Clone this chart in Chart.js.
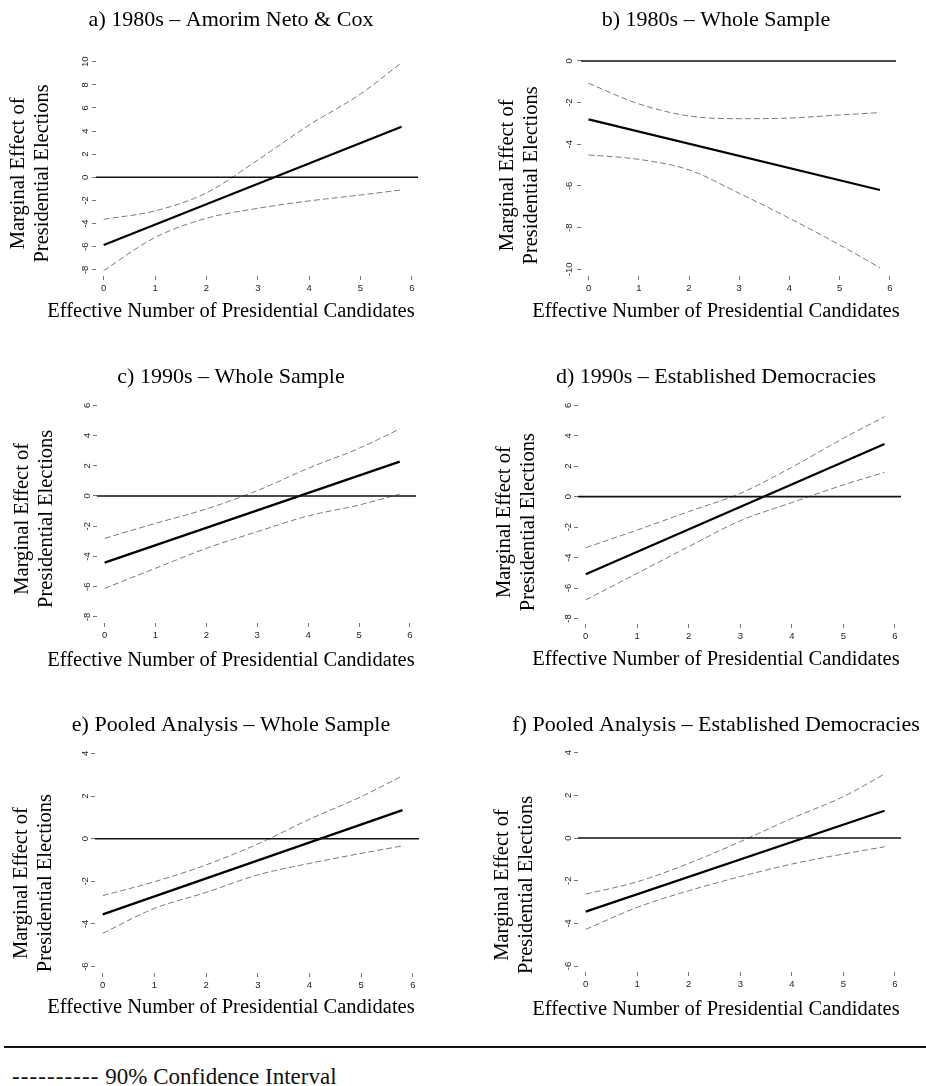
<!DOCTYPE html>
<html>
<head>
<meta charset="utf-8">
<script src="https://cdn.jsdelivr.net/npm/chart.js@4.4.1/dist/chart.umd.min.js"></script>
<style>
  html, body { margin: 0; padding: 0; background: #fff; width: 926px; height: 1086px; overflow: hidden; position: relative; }
  canvas { position: absolute; }
  #rule { position: absolute; left: 4px; top: 1046px; width: 922px; height: 0; border-top: 2px solid #111; }
  #note { position: absolute; left: 12px; top: 1064px; font: 23px 'Liberation Serif', serif; line-height: 26px; color: #111; white-space: nowrap; }
  #note .dash { letter-spacing: 1.1px; }
</style>
</head>
<body>
<div id="rule"></div>
<div id="note"><span class="dash">----------</span> 90% Confidence Interval</div>
<script>
// ─── DATA ─────────────────────────────────────────────────────
const panelTitles = [
    'a) 1980s – Amorim Neto & Cox',
    'b) 1980s – Whole Sample',
    'c) 1990s – Whole Sample',
    'd) 1990s – Established Democracies',
    'e) Pooled Analysis – Whole Sample',
    'f) Pooled Analysis – Established Democracies',
];
const xTitle = 'Effective Number of Presidential Candidates';
const yTitle = ['Marginal Effect of', 'Presidential Elections'];

const xRange = [-0.15, 6.12];
const xTicks = [0, 1, 2, 3, 4, 5, 6];
const ciX    = [0, 1, 2, 3, 4, 5, 5.8];   // where the CI curves were read
const estX   = [0, 5.8];                  // estimate line end points

// a) 1980s – Amorim Neto & Cox
const estA   = [-5.85, 4.38];
const upperA = [-3.63, -2.90, -1.35, 1.50, 4.52, 7.20, 9.91];
const lowerA = [-8.06, -5.20, -3.54, -2.68, -2.04, -1.53, -1.09];
const yTicksA = [-8, -6, -4, -2, 0, 2, 4, 6, 8, 10];
const yRangeA = [-8.53, 10.53];

// b) 1980s – Whole Sample
const estB   = [-2.80, -6.19];
const upperB = [-1.07, -2.06, -2.64, -2.77, -2.74, -2.59, -2.48];
const lowerB = [-4.51, -4.72, -5.23, -6.35, -7.55, -8.83, -9.92];
const yTicksB = [-10, -8, -6, -4, -2, 0];
const yRangeB = [-10.32, 0.32];

// c) 1990s – Whole Sample
const estC   = [-4.41, 2.27];
const upperC = [-2.80, -1.81, -0.86, 0.35, 1.83, 3.15, 4.43];
const lowerC = [-6.11, -4.78, -3.46, -2.36, -1.32, -0.60, 0.13];
const yTicksC = [-8, -6, -4, -2, 0, 2, 4, 6];
const yRangeC = [-8.4, 6.4];

// d) 1990s – Established Democracies
const estD   = [-5.10, 3.46];
const upperD = [-3.35, -2.19, -0.98, 0.22, 1.93, 3.83, 5.25];
const lowerD = [-6.78, -5.03, -3.28, -1.58, -0.39, 0.77, 1.60];
const yTicksD = [-8, -6, -4, -2, 0, 2, 4, 6];
const yRangeD = [-8.36, 6.36];

// e) Pooled Analysis – Whole Sample
const estE   = [-3.55, 1.34];
const upperE = [-2.67, -2.02, -1.23, -0.25, 0.91, 1.97, 2.95];
const lowerE = [-4.44, -3.27, -2.52, -1.70, -1.16, -0.69, -0.34];
const yTicksE = [-6, -4, -2, 0, 2, 4];
const yRangeE = [-6.3, 4.3];

// f) Pooled Analysis – Established Democracies
const estF   = [-3.45, 1.28];
const upperF = [-2.63, -2.05, -1.19, -0.17, 0.92, 1.94, 3.00];
const lowerF = [-4.28, -3.25, -2.47, -1.81, -1.22, -0.75, -0.41];
const yTicksF = [-6, -4, -2, 0, 2, 4];
const yRangeF = [-6.28, 4.28];

// ─── LAYOUT (page pixels) ─────────────────────────────────────
// L/T/W/H: canvas box; cl/cr/ct/cb: plot area; titleY/xTitleY: text centres
// yShift: how far the y title sits below the plot's middle
const boxes = [
    { L: 0,   T: 0,   W: 462, H: 345, titleY: 20,  xTitleY: 312,  cl: 96,  cr: 418, ct: 55.5,  cb: 276, yTitleX: 19,  yShift: 7 },
    { L: 463, T: 0,   W: 506, H: 345, titleY: 20,  xTitleY: 312,  cl: 581, cr: 896, ct: 54.3,  cb: 276, yTitleX: 508, yShift: 11 },
    { L: 0,   T: 350, W: 462, H: 340, titleY: 377, xTitleY: 661,  cl: 97,  cr: 416, ct: 399.2, cb: 623, yTitleX: 23,  yShift: 8 },
    { L: 463, T: 350, W: 506, H: 340, titleY: 377, xTitleY: 660,  cl: 578, cr: 901, ct: 399.8, cb: 624, yTitleX: 505, yShift: 11 },
    { L: 0,   T: 695, W: 462, H: 340, titleY: 725, xTitleY: 1008, cl: 95,  cr: 419, ct: 747,   cb: 973, yTitleX: 22,  yShift: 22 },
    { L: 463, T: 695, W: 506, H: 340, titleY: 725, xTitleY: 1010, cl: 578, cr: 901, ct: 746.7, cb: 972, yTitleX: 503, yShift: 25 },
];

const SERIF = "'Liberation Serif', 'Times New Roman', serif";
const SANS  = "'Liberation Sans', Arial, sans-serif";
const X_AXIS_H = 20;
const SPACE_W = 5.125;   // width of a space at 20.5px serif

const pts = (xs, ys) => xs.map((x, k) => ({ x, y: ys[k] }));

// ─── PANEL ────────────────────────────────────────────────────
function makePanel(i, est, upper, lower, yTicks, yRange) {
    const b = boxes[i];
    const cv = document.createElement('canvas');
    cv.width = b.W;
    cv.height = b.H;
    cv.style.left = b.L + 'px';
    cv.style.top = b.T + 'px';
    document.body.appendChild(cv);

    // trailing spaces push the rotated, centred y title downwards
    const pad = ' '.repeat(Math.round(b.yShift * 2 / SPACE_W));
    const ci = { borderColor: '#7a7a7a', borderWidth: 1, borderDash: [6, 3], cubicInterpolationMode: 'monotone' };

    new Chart(cv, {
        type: 'line',
        data: {
            datasets: [
                { data: pts(xRange, [0, 0]), borderColor: '#111', borderWidth: 1.6 },
                { data: pts(ciX, upper), ...ci },
                { data: pts(ciX, lower), ...ci },
                { data: pts(estX, est), borderColor: '#000', borderWidth: 2.2 },
            ]
        },
        options: {
            responsive: false,
            animation: false,
            devicePixelRatio: 1,
            events: [],
            elements: { point: { radius: 0 } },
            layout: { padding: 0 },
            plugins: {
                legend: { display: false },
                tooltip: { enabled: false },
                title: {
                    display: true,
                    text: panelTitles[i],
                    color: '#000',
                    font: { family: SERIF, size: 22, weight: 'normal', lineHeight: 1.2 },
                    padding: { top: b.titleY - b.T - 13.2, bottom: b.ct - b.titleY - 13.2 }
                },
                subtitle: {
                    display: true,
                    position: 'bottom',
                    text: xTitle,
                    color: '#000',
                    font: { family: SERIF, size: 20.5, weight: 'normal', lineHeight: 1.2 },
                    padding: { top: b.xTitleY - b.cb - X_AXIS_H - 12.3, bottom: b.T + b.H - b.xTitleY - 12.3 }
                }
            },
            scales: {
                x: {
                    type: 'linear',
                    min: xRange[0],
                    max: xRange[1],
                    afterBuildTicks: s => { s.ticks = xTicks.map(v => ({ value: v })); },
                    afterFit: s => { s.height = X_AXIS_H; },
                    border: { display: false },
                    grid: { drawOnChartArea: false, drawTicks: true, tickLength: 4, color: '#777' },
                    ticks: { font: { family: SANS, size: 9.5 }, color: '#222', padding: 3, autoSkip: false, maxRotation: 0, callback: v => String(v) }
                },
                y: {
                    type: 'linear',
                    min: yRange[0],
                    max: yRange[1],
                    afterBuildTicks: s => { s.ticks = yTicks.map(v => ({ value: v })); },
                    afterFit: s => { s.width = b.cl - b.L; },
                    border: { display: false },
                    grid: { drawOnChartArea: false, drawTicks: true, tickLength: 4, color: '#777' },
                    ticks: { font: { family: SANS, size: 9.5 }, color: '#222', padding: 1, autoSkip: false,
                             minRotation: 90, maxRotation: 90, crossAlign: 'center', callback: v => String(v) },
                    title: {
                        display: true,
                        text: yTitle.map(t => t + pad),
                        color: '#000',
                        font: { family: SERIF, size: 20.5, weight: 'normal', lineHeight: 1.17 },
                        padding: { top: b.yTitleX - b.L - 12, bottom: 0 }
                    }
                },
                // empty right-hand spacer so titles stay centred on the whole canvas
                yRight: {
                    type: 'linear',
                    position: 'right',
                    min: 0,
                    max: 1,
                    afterFit: s => { s.width = b.L + b.W - b.cr; },
                    border: { display: false },
                    grid: { display: false },
                    ticks: { display: false }
                }
            }
        }
    });
}

// ─── INIT ─────────────────────────────────────────────────────
makePanel(0, estA, upperA, lowerA, yTicksA, yRangeA);
makePanel(1, estB, upperB, lowerB, yTicksB, yRangeB);
makePanel(2, estC, upperC, lowerC, yTicksC, yRangeC);
makePanel(3, estD, upperD, lowerD, yTicksD, yRangeD);
makePanel(4, estE, upperE, lowerE, yTicksE, yRangeE);
makePanel(5, estF, upperF, lowerF, yTicksF, yRangeF);
</script>
</body>
</html>
